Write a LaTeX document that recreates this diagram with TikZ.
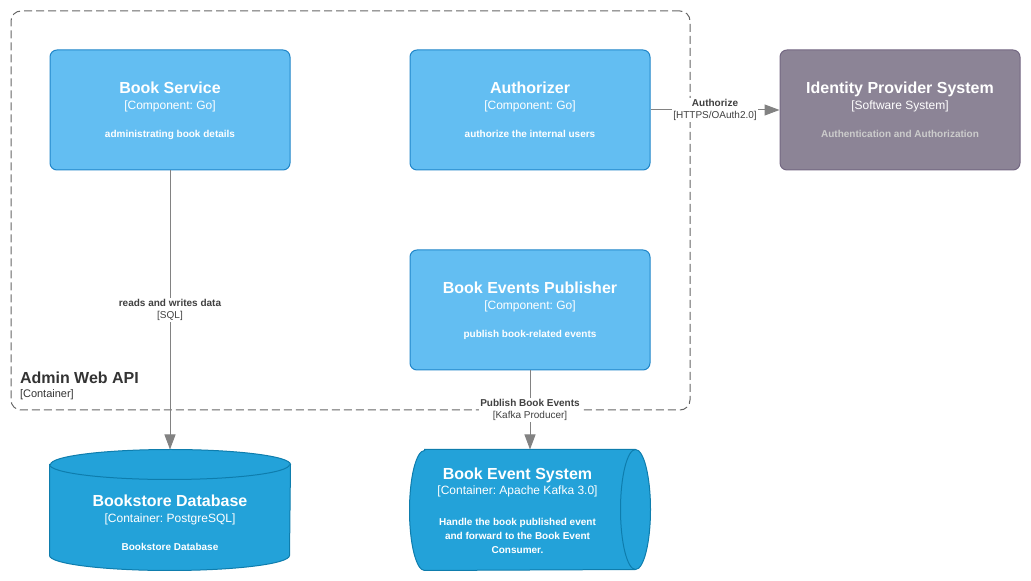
\documentclass[tikz,border=0pt]{standalone}
\usepackage{fontspec}
\setmainfont{Liberation Sans}
\usepackage{xcolor}
\usepackage{tikz}
\usetikzlibrary{positioning, arrows.meta}
\frenchspacing
\definecolor{compFill}{HTML}{63BEF2}
\definecolor{compLine}{HTML}{2086C9}
\definecolor{contFill}{HTML}{23A2D9}
\definecolor{contLine}{HTML}{0E7DAD}
\definecolor{extFill}{HTML}{8C8496}
\definecolor{extLine}{HTML}{736782}
\definecolor{relLine}{HTML}{828282}
\definecolor{relText}{HTML}{404040}
\definecolor{boundLine}{HTML}{666666}
\definecolor{boundText}{HTML}{333333}
\definecolor{descGrey}{HTML}{CCCCCC}

\begin{document}
\begin{tikzpicture}[x=1pt, y=1pt, line width=1pt,
    every node/.style={inner sep=0pt, text=white, font=\fontsize{10}{12}\selectfont},
    ttl/.style={anchor=base, font=\fontsize{16}{19}\selectfont\bfseries},
    tech/.style={anchor=base, font=\fontsize{12}{14}\selectfont},
    desc/.style={anchor=base, font=\fontsize{10}{14.2}\selectfont\bfseries},
    comp/.style={draw=compLine, fill=compFill, rounded corners=7pt, minimum width=240pt, minimum height=120pt},
    ext/.style={comp, draw=extLine, fill=extFill},
    slot/.style={minimum width=240pt, minimum height=120pt},
    cyl/.style={draw=contLine, fill=contFill},
    bound/.style={draw=boundLine, dash pattern=on 8pt off 4pt, rounded corners=10pt},
    rel/.style={draw=relLine, -{Triangle[length=15pt, width=11pt]}},
    rellabel/.style={fill=white, inner sep=1pt, text=relText, align=center, font=\fontsize{10}{12.6}\selectfont}]
  \useasboundingbox (0,0) rectangle (1031,581);
  % Admin Web API boundary
  \node[bound, minimum width=679pt, minimum height=399pt] (api) at (350.5,370.5) {};
  \node[anchor=base west, text=boundText, font=\fontsize{16}{19}\selectfont\bfseries] (apiName) at ([shift={(9pt,27.3pt)}]api.south west) {Admin Web API};
  \node[anchor=base west, text=boundText, font=\fontsize{11}{13}\selectfont] (apiKind) at ([shift={(9pt,13.3pt)}]api.south west) {[Container]};
  % Book Service
  \node[comp] (bs) at (170,471) {};
  \node[ttl] (bsName) at ([yshift=16pt]bs.center) {Book Service};
  \node[tech] (bsTech) at (bs.center) {[Component: Go]};
  \node[desc] (bsDesc) at ([yshift=-28pt]bs.center) {administrating book details};
  % Authorizer
  \node[comp] (auth) at (530,471) {};
  \node[ttl] (authName) at ([yshift=16pt]auth.center) {Authorizer};
  \node[tech] (authTech) at (auth.center) {[Component: Go]};
  \node[desc] (authDesc) at ([yshift=-28pt]auth.center) {authorize the internal users};
  % Book Events Publisher
  \node[comp] (pub) at (530,271) {};
  \node[ttl] (pubName) at ([yshift=16pt]pub.center) {Book Events Publisher};
  \node[tech] (pubTech) at (pub.center) {[Component: Go]};
  \node[desc] (pubDesc) at ([yshift=-28pt]pub.center) {publish book-related events};
  % Identity Provider System — external
  \node[ext] (idp) at (900,471) {};
  \node[ttl] (idpName) at ([yshift=16pt]idp.center) {Identity Provider System};
  \node[tech] (idpTech) at (idp.center) {[Software System]};
  \node[desc, text=descGrey] (idpDesc) at ([yshift=-28pt]idp.center) {Authentication and Authorization};
  % Bookstore Database — cylinder
  \node[slot] (db) at (170,71) {};
  \draw[cyl] ([yshift=-15pt]db.north west) -- ([yshift=15pt]db.south west)
    arc[start angle=180, end angle=360, x radius=120pt, y radius=15pt]
    -- ([yshift=-15pt]db.north east)
    arc[start angle=0, end angle=180, x radius=120pt, y radius=15pt] -- cycle;
  \draw[contLine] ([yshift=-15pt]db.north west)
    arc[start angle=180, end angle=360, x radius=120pt, y radius=15pt];
  \node[ttl] (dbName) at ([yshift=3.3pt]db.center) {Bookstore Database};
  \node[tech] (dbTech) at ([yshift=-12.7pt]db.center) {[Container: PostgreSQL]};
  \node[desc] (dbDesc) at ([yshift=-40.7pt]db.center) {Bookstore Database};
  % Book Event System — lying cylinder
  \node[slot] (evs) at (530,71) {};
  \draw[cyl] ([xshift=15pt]evs.north west) -- ([xshift=-15pt]evs.north east)
    arc[start angle=90, end angle=-90, x radius=15pt, y radius=60pt]
    -- ([xshift=15pt]evs.south west)
    arc[start angle=270, end angle=90, x radius=15pt, y radius=60pt] -- cycle;
  \draw[contLine] ([xshift=-15pt]evs.north east)
    arc[start angle=90, end angle=270, x radius=15pt, y radius=60pt];
  \node[ttl] (evsName) at ([shift={(-12.5pt,30pt)}]evs.center) {Book Event System};
  \node[tech] (evsTech) at ([shift={(-12.5pt,15pt)}]evs.center) {[Container: Apache Kafka 3.0]};
  \node[desc, anchor=north, align=center] (evsDesc) at ([shift={(-12.5pt,-7.8pt)}]evs.center)
    {Handle the book published event\\and forward to the Book Event\\Consumer.};
  % relations
  \draw[rel] (bs) -- node[rellabel] {\textbf{reads and writes data}\\{[SQL]}} (db);
  \draw[rel] (auth) -- node[rellabel] {\textbf{Authorize}\\{[HTTPS/OAuth2.0]}} (idp);
  \draw[rel] (pub) -- node[rellabel] {\textbf{Publish Book Events}\\{[Kafka Producer]}} (evs);
\end{tikzpicture}
\end{document}
